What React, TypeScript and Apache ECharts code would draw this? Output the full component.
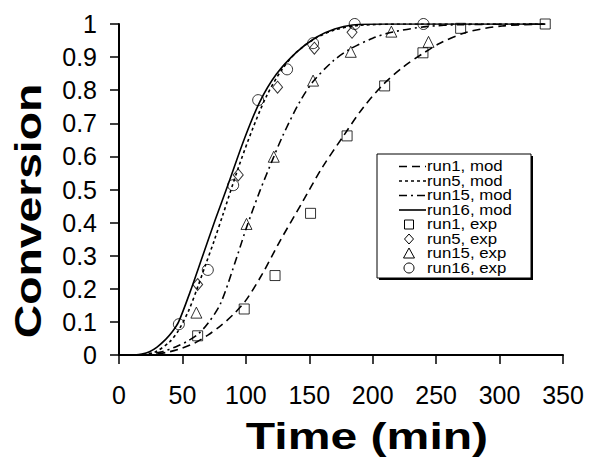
import React, { useEffect, useRef } from "react";
import * as echarts from "echarts";

const xTicks = [0, 50, 100, 150, 200, 250, 300, 350];
const yTicks = [0, 0.1, 0.2, 0.3, 0.4, 0.5, 0.6, 0.7, 0.8, 0.9, 1];

const run1Mod = [[20,0],[30,0.003],[40,0.01],[50,0.021],[60,0.037],[70,0.06],[80,0.088],[90,0.122],[100,0.165],[113,0.245],[127,0.345],[144,0.458],[160,0.565],[176.6,0.66],[192,0.745],[208,0.816],[224,0.87],[239.6,0.911],[253,0.942],[274,0.975],[302,0.994],[336,1]];
const run5Mod = [[14,0],[20,0.002],[29,0.01],[40,0.04],[47,0.075],[55,0.135],[62,0.205],[68,0.27],[75,0.345],[82,0.425],[94,0.565],[105,0.68],[116,0.78],[128,0.86],[140,0.915],[155,0.957],[170,0.982],[190,0.996],[230,1],[336,1]];
const run15Mod = [[15,0],[25,0.004],[34,0.01],[45,0.025],[55,0.044],[62,0.062],[70,0.095],[80,0.155],[93,0.297],[100.5,0.385],[111,0.495],[121.5,0.594],[129.4,0.665],[142.5,0.765],[153,0.826],[168.7,0.888],[182,0.924],[200,0.957],[216,0.976],[242,0.992],[270,0.998],[336,1]];
const run16Mod = [[12,0],[18,0.003],[24,0.01],[30,0.024],[37,0.048],[42,0.07],[47,0.1],[56,0.19],[66,0.3],[76,0.41],[86,0.515],[99,0.655],[111,0.765],[124,0.848],[140,0.915],[155.6,0.96],[170,0.985],[184,0.997],[210,1],[336,1]];

const run1Exp = [[62,0.058],[98.7,0.139],[123,0.24],[151,0.428],[179.8,0.662],[209.4,0.813],[239.6,0.913],[269.3,0.987],[336,1]];
const run5Exp = [[62,0.213],[94,0.544],[125,0.809],[154,0.927],[183.7,0.975]];
const run15Exp = [[61,0.128],[100.5,0.396],[122,0.599],[153,0.829],[182.7,0.916],[214.7,0.977],[244,0.946]];
const run16Exp = [[47.2,0.093],[70,0.257],[90,0.513],[109.7,0.77],[132.5,0.863],[153,0.942],[185.8,1],[240,1]];

const legendLabels = ["run1, mod", "run5, mod", "run15, mod", "run16, mod", "run1, exp", "run5, exp", "run15, exp", "run16, exp"];

const FONT = "Liberation Sans, Arial, Helvetica, sans-serif";

function lineSeries(name: string, data: number[][], dash: any) {
  return {
    name,
    type: "line",
    data,
    smooth: 0.3,
    showSymbol: false,
    symbol: "none",
    silent: true,
    lineStyle: { color: "#000", width: 1.6, type: dash },
    z: 2,
  };
}

function scatterSeries(name: string, data: number[][], symbol: string, size: any) {
  return {
    name,
    type: "scatter",
    data,
    symbol,
    symbolSize: size,
    itemStyle: { color: "rgba(0,0,0,0)", borderColor: "#000", borderWidth: 1 },
    z: 3,
  };
}

export default function App() {
  const ref = useRef<HTMLDivElement>(null);
  useEffect(() => {
    const chart = echarts.init(ref.current!, null, { renderer: "svg" });
    const rowY = [166.5, 181, 195.5, 210, 224.5, 239, 253.5, 268];
    const lx1 = 399, lx2 = 426, mx = 409, tx = 427;
    const dashes: any[] = [[8, 5], [3, 3], [8, 4, 2, 4], null];
    const legendEls: any[] = [
      { type: "rect", shape: { x: 379, y: 156, width: 154, height: 124 }, style: { fill: "#000" } },
      { type: "rect", shape: { x: 377, y: 154, width: 154, height: 124 }, style: { fill: "#fff", stroke: "#000", lineWidth: 1 } },
    ];
    for (let i = 0; i < 4; i++) {
      legendEls.push({
        type: "line",
        shape: { x1: lx1, y1: rowY[i], x2: lx2, y2: rowY[i] },
        style: { stroke: "#000", lineWidth: 1.6, lineDash: dashes[i] },
      });
    }
    legendEls.push({ type: "rect", shape: { x: mx - 4.5, y: rowY[4] - 4.5, width: 9, height: 9 }, style: { fill: "none", stroke: "#000", lineWidth: 1 } });
    legendEls.push({ type: "polygon", shape: { points: [[mx, rowY[5] - 5], [mx + 4.5, rowY[5]], [mx, rowY[5] + 5], [mx - 4.5, rowY[5]]] }, style: { fill: "none", stroke: "#000", lineWidth: 1 } });
    legendEls.push({ type: "polygon", shape: { points: [[mx, rowY[6] - 5.5], [mx + 5.5, rowY[6] + 4.5], [mx - 5.5, rowY[6] + 4.5]] }, style: { fill: "none", stroke: "#000", lineWidth: 1 } });
    legendEls.push({ type: "circle", shape: { cx: mx, cy: rowY[7], r: 5 }, style: { fill: "none", stroke: "#000", lineWidth: 1 } });
    legendLabels.forEach((t, i) => {
      legendEls.push({
        type: "text",
        x: tx,
        y: rowY[i],
        scaleX: 1.2,
        style: { text: t, font: `14px ${FONT}`, lineHeight: 13, fill: "#000", textAlign: "left", textVerticalAlign: "middle" },
      });
    });

    chart.setOption({
      animation: false,
      backgroundColor: "#fff",
      grid: { left: 119, right: 26, top: 24, bottom: 102, containLabel: false },
      xAxis: {
        type: "value",
        min: 0,
        max: 350,
        interval: 50,
        axisLine: { show: true, onZero: false, lineStyle: { color: "#000", width: 2 } },
        axisTick: { show: true, length: 9, inside: false, lineStyle: { color: "#000", width: 1.5 } },
        axisLabel: {
          margin: 27,
          fontSize: 25,
          fontFamily: FONT,
          color: "#000",
          formatter: (v: number) => (xTicks.includes(v) ? String(v) : ""),
        },
        splitLine: { show: false },
      },
      yAxis: {
        type: "value",
        min: 0,
        max: 1,
        interval: 0.1,
        axisLine: { show: true, onZero: false, lineStyle: { color: "#000", width: 2 } },
        axisTick: { show: true, length: 9, inside: false, lineStyle: { color: "#000", width: 1.5 } },
        axisLabel: {
          margin: 22,
          fontSize: 25,
          fontFamily: FONT,
          color: "#000",
          formatter: (v: number) => {
            const r = Math.round(v * 10) / 10;
            const t = yTicks.find((k) => Math.abs(k - r) < 1e-9);
            return t === undefined ? "" : String(t);
          },
        },
        splitLine: { show: false },
      },
      series: [
        lineSeries("run1, mod", run1Mod, [8, 5]),
        lineSeries("run5, mod", run5Mod, [3, 3]),
        lineSeries("run15, mod", run15Mod, [8, 4, 2, 4]),
        lineSeries("run16, mod", run16Mod, "solid"),
        scatterSeries("run1, exp", run1Exp, "rect", 10),
        scatterSeries("run5, exp", run5Exp, "diamond", [10, 12]),
        scatterSeries("run15, exp", run15Exp, "triangle", 11),
        scatterSeries("run16, exp", run16Exp, "circle", 11),
      ],
      graphic: [
        {
          type: "text",
          x: 28,
          y: 211,
          rotation: Math.PI / 2,
          scaleX: 1.25,
          style: { text: "Conversion", font: `bold 37px ${FONT}`, fill: "#000", textAlign: "center", textVerticalAlign: "middle" },
        },
        {
          type: "text",
          x: 367,
          y: 436,
          scaleX: 1.3,
          style: { text: "Time (min)", font: `bold 37px ${FONT}`, fill: "#000", textAlign: "center", textVerticalAlign: "middle" },
        },
        ...legendEls,
      ],
    });
    return () => chart.dispose();
  }, []);
  return <div ref={ref} style={{ position: "fixed", left: 0, top: 0, width: 589, height: 457 }} />;
}
